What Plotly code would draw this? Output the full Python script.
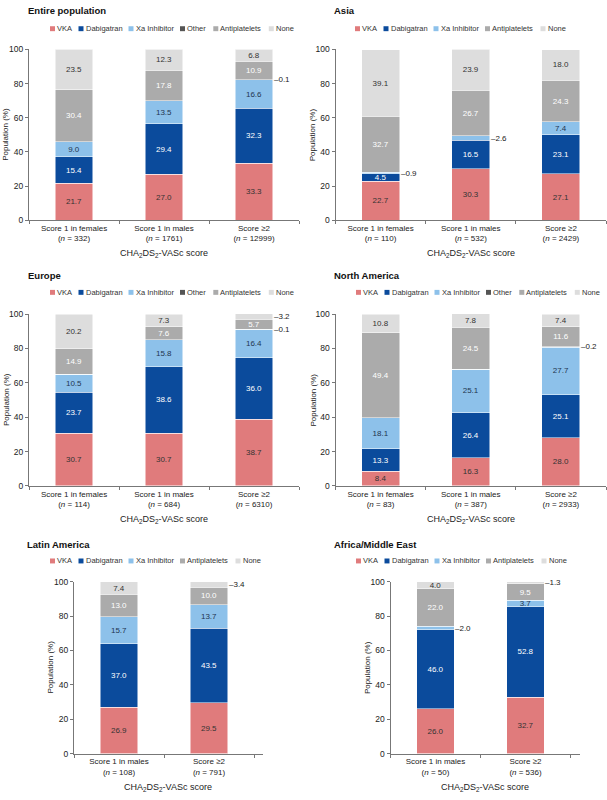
import plotly.graph_objects as go
from plotly.subplots import make_subplots

W, H = 607, 800

# Categorías y tratamientos
cats_3 = ["Score 1 in females", "Score 1 in males", "Score ≥2"]
cats_2 = ["Score 1 in males", "Score ≥2"]
tratamientos = ["VKA", "Dabigatran", "Xa Inhibitor", "Other", "Antiplatelets", "None"]

colores = {
    "VKA": "#E07B7C",
    "Dabigatran": "#0B4B9C",
    "Xa Inhibitor": "#8DC1EA",
    "Other": "#555555",
    "Antiplatelets": "#ABABAB",
    "None": "#DDDDDD",
}
color_texto = {
    "VKA": "#333333",
    "Dabigatran": "#FFFFFF",
    "Xa Inhibitor": "#1F3550",
    "Other": "#FFFFFF",
    "Antiplatelets": "#FFFFFF",
    "None": "#333333",
}
# Avance horizontal de cada entrada de la leyenda (px)
avance_leyenda = {"VKA": 28.5, "Dabigatran": 50, "Xa Inhibitor": 51.5,
                  "Other": 33.3, "Antiplatelets": 55.5, "None": 30}

# Entire population
entire_n = [332, 1761, 12999]
entire_vka = [21.7, 27.0, 33.3]
entire_dabi = [15.4, 29.4, 32.3]
entire_xa = [9.0, 13.5, 16.6]
entire_otro = [0, 0, 0.1]
entire_anti = [30.4, 17.8, 10.9]
entire_none = [23.5, 12.3, 6.8]

# Asia
asia_n = [110, 532, 2429]
asia_vka = [22.7, 30.3, 27.1]
asia_dabi = [4.5, 16.5, 23.1]
asia_xa = [0.9, 2.6, 7.4]
asia_anti = [32.7, 26.7, 24.3]
asia_none = [39.1, 23.9, 18.0]

# Europe
europa_n = [114, 684, 6310]
europa_vka = [30.7, 30.7, 38.7]
europa_dabi = [23.7, 38.6, 36.0]
europa_xa = [10.5, 15.8, 16.4]
europa_otro = [0, 0, 0.1]
europa_anti = [14.9, 7.6, 5.7]
europa_none = [20.2, 7.3, 3.2]

# North America
na_n = [83, 387, 2933]
na_vka = [8.4, 16.3, 28.0]
na_dabi = [13.3, 26.4, 25.1]
na_xa = [18.1, 25.1, 27.7]
na_otro = [0, 0, 0.2]
na_anti = [49.4, 24.5, 11.6]
na_none = [10.8, 7.8, 7.4]

# Latin America
la_n = [108, 791]
la_vka = [26.9, 29.5]
la_dabi = [37.0, 43.5]
la_xa = [15.7, 13.7]
la_anti = [13.0, 10.0]
la_none = [7.4, 3.4]

# Africa/Middle East
af_n = [50, 536]
af_vka = [26.0, 32.7]
af_dabi = [46.0, 52.8]
af_xa = [2.0, 3.7]
af_anti = [22.0, 9.5]
af_none = [4.0, 1.3]

paneles = [
    ("Entire population", cats_3, entire_n,
     [entire_vka, entire_dabi, entire_xa, entire_otro, entire_anti, entire_none]),
    ("Asia", cats_3, asia_n, [asia_vka, asia_dabi, asia_xa, None, asia_anti, asia_none]),
    ("Europe", cats_3, europa_n,
     [europa_vka, europa_dabi, europa_xa, europa_otro, europa_anti, europa_none]),
    ("North America", cats_3, na_n, [na_vka, na_dabi, na_xa, na_otro, na_anti, na_none]),
    ("Latin America", cats_2, la_n, [la_vka, la_dabi, la_xa, None, la_anti, la_none]),
    ("Africa/Middle East", cats_2, af_n, [af_vka, af_dabi, af_xa, None, af_anti, af_none]),
]

# Cajas de cada panel en píxeles: x0, x1, y arriba, y abajo
cajas = [
    (29, 299, 45, 218),
    (335.5, 606, 45, 218),
    (29, 299, 313, 487),
    (335.5, 606, 313, 487),
    (74, 263, 584, 758),
    (390.5, 579.5, 584, 758),
]
pos_titulo = [(27, 6), (333, 6), (27, 274), (333, 274), (26, 546), (333, 546)]
pos_leyenda = [(50, 24), (355, 24), (50, 291), (356, 291), (50, 563), (356, 563)]

FUENTE = "Liberation Sans, Arial, sans-serif"
FUENTE_EJE = "Liberation Sans Narrow, Arial Narrow, Liberation Sans, sans-serif"
ANCHO = 0.42


def px(x):
    return x / W


def py(y):
    return 1 - y / H


fig = make_subplots(rows=3, cols=2)
anotaciones = []
formas = []

for k, (titulo, cats, ns, series) in enumerate(paneles):
    fila, col = k // 2 + 1, k % 2 + 1
    x0, x1, ytop, ybot = cajas[k]
    etiquetas = [f"{c}<br>(<i>n</i> = {n})" for c, n in zip(cats, ns)]
    acumulado = [0.0] * len(cats)
    for nombre, valores in zip(tratamientos, series):
        if valores is None:
            continue
        textos = [f"{v:.1f}" if v >= 3.5 else "" for v in valores]
        fig.add_trace(go.Bar(
            x=etiquetas, y=valores, name=nombre, width=ANCHO,
            marker=dict(color=colores[nombre], line=dict(color="white", width=0.5)),
            text=textos, textposition="inside", insidetextanchor="middle",
            textangle=0, constraintext="none",
            textfont=dict(color=color_texto[nombre], size=8, family=FUENTE),
            showlegend=False,
        ), row=fila, col=col)
        # Etiquetas de segmentos pequeños, fuera de la barra
        for i, v in enumerate(valores):
            if 0 < v < 3.5:
                anotaciones.append(dict(
                    x=i + ANCHO / 2, y=acumulado[i] + v / 2,
                    xref=fig.data[-1].xaxis, yref=fig.data[-1].yaxis,
                    text=f"–{v:.1f}", showarrow=False, xanchor="left", borderpad=0,
                    font=dict(size=8, color="#222222", family=FUENTE),
                ))
            acumulado[i] += v

    sufijo = "" if k == 0 else str(k + 1)
    fig.layout["xaxis" + sufijo].update(
        domain=[px(x0), px(x1)],
        range=[-0.5, len(cats) - 0.5 + (0.1 if len(cats) == 2 else 0)],
        showline=True, linecolor="#777777", linewidth=1,
        ticks="outside", ticklen=3, tickcolor="#777777", tickson="boundaries",
        tickfont=dict(size=8, color="#222222", family=FUENTE_EJE),
        showgrid=False,
    )
    fig.layout["yaxis" + sufijo].update(
        domain=[py(ybot), py(ytop)], range=[0, 100],
        tickvals=[0, 20, 40, 60, 80, 100],
        showline=True, linecolor="#777777", linewidth=1,
        ticks="outside", ticklen=3, tickcolor="#777777",
        tickfont=dict(size=8.5, color="#222222", family=FUENTE),
        showgrid=False, zeroline=False,
    )

    # Título del panel
    tx, ty = pos_titulo[k]
    anotaciones.append(dict(
        x=px(tx), y=py(ty), xref="paper", yref="paper", xanchor="left", yanchor="middle",
        text=f"<b>{titulo}</b>", showarrow=False, borderpad=0,
        font=dict(size=9.5, color="#111111", family=FUENTE),
    ))
    # Leyenda: cuadrado + texto
    lx, ly = pos_leyenda[k]
    for nombre, s in zip(tratamientos, series):
        if s is None:
            continue
        formas.append(dict(
            type="rect", xref="paper", yref="paper",
            x0=px(lx), x1=px(lx + 5), y0=py(ly + 2.5), y1=py(ly - 2.5),
            fillcolor=colores[nombre], line=dict(width=0),
        ))
        anotaciones.append(dict(
            x=px(lx + 6), y=py(ly), xref="paper", yref="paper",
            xanchor="left", yanchor="middle", text=nombre, showarrow=False, borderpad=0,
            font=dict(size=7.5, color="#333333", family=FUENTE),
        ))
        lx += avance_leyenda[nombre]
    # Título eje x
    anotaciones.append(dict(
        x=px((x0 + x1) / 2), y=py(ybot + 34), xref="paper", yref="paper",
        xanchor="center", yanchor="middle",
        text="CHA<sub>2</sub>DS<sub>2</sub>-VASc score", showarrow=False,
        font=dict(size=9, color="#222222", family=FUENTE),
    ))
    # Título eje y
    anotaciones.append(dict(
        x=px(x0 - 23), y=py((ytop + ybot) / 2), xref="paper", yref="paper",
        xanchor="center", yanchor="middle", textangle=-90,
        text="Population (%)", showarrow=False,
        font=dict(size=8, color="#222222", family=FUENTE_EJE),
    ))

fig.update_layout(
    barmode="stack",
    width=W, height=H,
    margin=dict(l=0, r=0, t=0, b=0),
    plot_bgcolor="white",
    paper_bgcolor="white",
    font=dict(family=FUENTE, color="#222222"),
    annotations=anotaciones,
    shapes=formas,
)

# Sin margen del body para que la figura ocupe la ventana
fig.write_html("out.html", config={"displayModeBar": False},
               post_script="document.body.style.margin='0px';")
